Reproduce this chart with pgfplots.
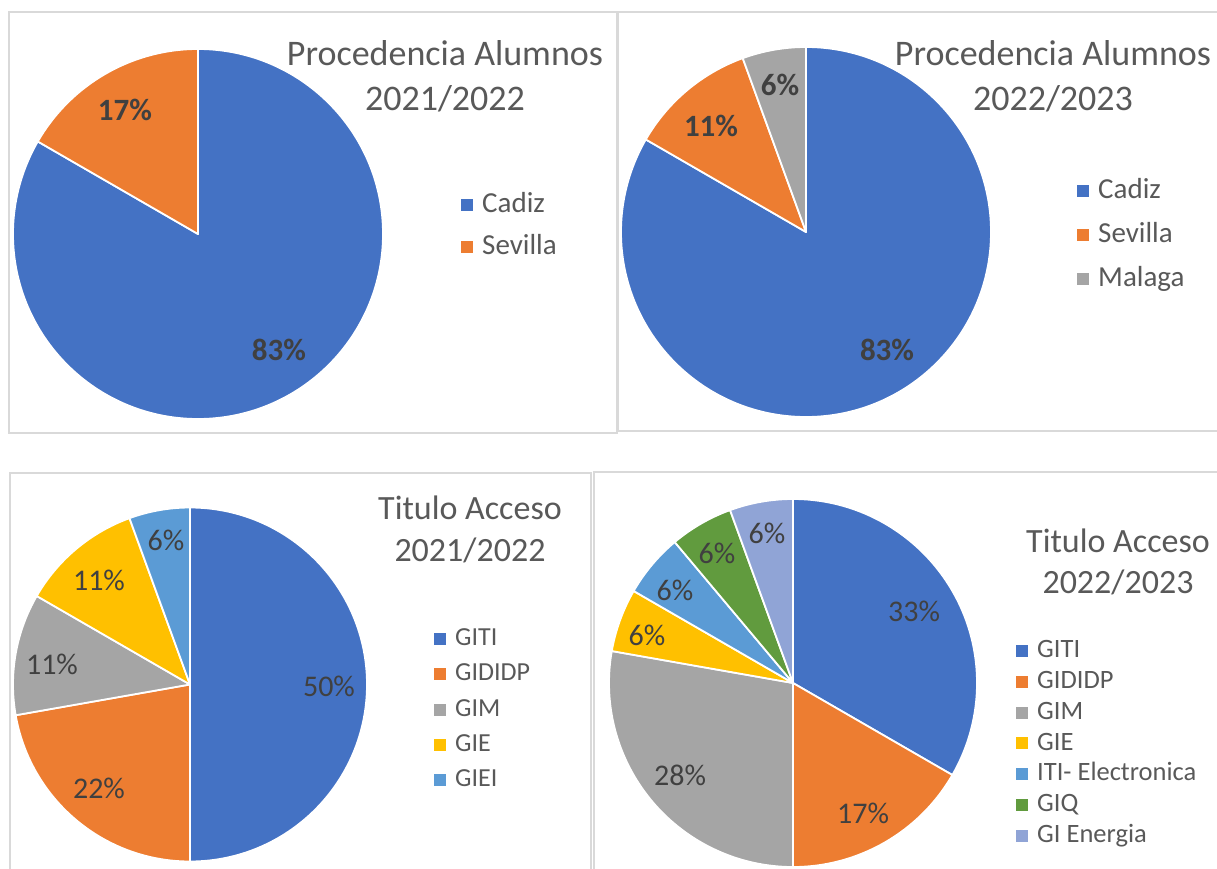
\documentclass[border=0pt]{standalone}
\usepackage{pgfplots}
\pgfplotsset{compat=1.18}
\usepackage{pgfplotstable}
\usepackage{fontspec}
\setmainfont{Carlito}
\definecolor{cblue}{HTML}{4472C4}
\definecolor{corange}{HTML}{ED7D31}
\definecolor{cgray}{HTML}{A5A5A5}
\definecolor{cgold}{HTML}{FFC000}
\definecolor{clblue}{HTML}{5B9BD5}
\definecolor{cgreen}{HTML}{619B3E}
\definecolor{clav}{HTML}{90A4D6}
\definecolor{titlegray}{HTML}{595959}
\definecolor{labgray}{HTML}{404040}
\definecolor{framegray}{HTML}{D9D9D9}

\pgfplotstableread{
name count col
Cadiz 15 cblue
Sevilla 3 corange
}\tA
\pgfplotstableread{
name count col
Cadiz 15 cblue
Sevilla 2 corange
Malaga 1 cgray
}\tB
\pgfplotstableread{
name count col
GITI 9 cblue
GIDIDP 4 corange
GIM 2 cgray
GIE 2 cgold
GIEI 1 clblue
}\tC
\pgfplotstableread{
name count col
GITI 6 cblue
GIDIDP 3 corange
GIM 5 cgray
GIE 1 cgold
{ITI- Electronica} 1 clblue
GIQ 1 cgreen
{GI Energia} 1 clav
}\tD

% #1 table, #2 cx, #3 cy, #4 radius
\newcommand\drawpie[4]{%
  \pgfplotstablegetrowsof{#1}%
  \pgfmathtruncatemacro\nrows{\pgfplotsretval-1}%
  \def\total{0}%
  \pgfplotsforeachungrouped \i in {0,...,\nrows}{%
    \pgfplotstablegetelem{\i}{count}\of#1%
    \pgfmathsetmacro\total{\total+\pgfplotsretval}}%
  \def\cum{0}%
  \pgfplotsforeachungrouped \i in {0,...,\nrows}{%
    \pgfplotstablegetelem{\i}{count}\of#1\let\pval\pgfplotsretval
    \pgfplotstablegetelem{\i}{col}\of#1\let\pcol\pgfplotsretval
    \pgfplotstablegetelem{\i}{name}\of#1\let\pname\pgfplotsretval
    \pgfmathsetmacro\aone{90-360*\cum/\total}%
    \pgfmathsetmacro\cum{\cum+\pval}%
    \pgfmathsetmacro\atwo{90-360*\cum/\total}%
    \edef\cmd{\noexpand\fill[\pcol, draw=white, line width=1.8pt, line join=round]
      (axis cs:#2,#3) -- ++(\aone:#4pt) arc[start angle=\aone, end angle=\atwo, radius=#4pt] -- cycle;
      \noexpand\addlegendimage{fill=\pcol}}%
    \cmd
    \addlegendentryexpanded{\pname}%
  }}

\pgfplotsset{panel/.style={anchor=south west, x=1pt, y=1pt, scale only axis,
  xtick=\empty, ytick=\empty, axis line style={framegray, line width=1.3pt},
  clip=false, legend cell align=left,
  legend image code/.code={\fill[##1, draw=none] (0pt,-6pt) rectangle (12pt,6pt);},
  legend style={draw=none, fill=none, anchor=north west, column sep=9pt}}}

\begin{document}
\begin{tikzpicture}
\useasboundingbox (0pt,0pt) rectangle (1217pt,-869pt);
\fill[white] (0pt,0pt) rectangle (1217pt,-869pt);

% Panel 1
\begin{axis}[panel, at={(9pt,-433pt)}, xmin=9, xmax=617, ymin=-433, ymax=-12,
  legend style={at={(axis cs:458,-190)}, font=\fontsize{29}{29}\selectfont, row sep=15.9pt,
    nodes={inner sep=0pt, text height=20.3pt, text depth=5.8pt, text=titlegray}}]
\drawpie{\tA}{198}{-234}{185}
\node[align=center, text=titlegray, font=\fontsize{36}{45}\selectfont] at (axis cs:445,-76) {Procedencia Alumnos\\2021/2022};
\node[text=labgray, font=\bfseries\fontsize{31}{31}\selectfont] at (axis cs:125,-110) {17\%};
\node[text=labgray, font=\bfseries\fontsize{31}{31}\selectfont] at (axis cs:279,-350) {83\%};
\end{axis}

% Panel 2
\begin{axis}[panel, at={(618pt,-431pt)}, xmin=618, xmax=1225, ymin=-431, ymax=-12,
  legend style={at={(axis cs:1074,-176)}, font=\fontsize{29}{29}\selectfont, row sep=17.9pt,
    nodes={inner sep=0pt, text height=20.3pt, text depth=5.8pt, text=titlegray}}]
\drawpie{\tB}{806}{-232}{185}
\node[align=center, text=titlegray, font=\fontsize{36}{45}\selectfont] at (axis cs:1053,-76) {Procedencia Alumnos\\2022/2023};
\node[text=labgray, font=\bfseries\fontsize{31}{31}\selectfont] at (axis cs:780,-85) {6\%};
\node[text=labgray, font=\bfseries\fontsize{31}{31}\selectfont] at (axis cs:711,-126) {11\%};
\node[text=labgray, font=\bfseries\fontsize{31}{31}\selectfont] at (axis cs:887,-350) {83\%};
\end{axis}

% Panel 3
\begin{axis}[panel, at={(10pt,-890pt)}, xmin=10, xmax=591, ymin=-890, ymax=-473,
  legend style={at={(axis cs:431,-625.1)}, font=\fontsize{26}{26}\selectfont, row sep=11.9pt,
    nodes={inner sep=0pt, text height=18.2pt, text depth=5.2pt, text=titlegray}}]
\drawpie{\tC}{190}{-684.5}{177}
\node[align=center, text=titlegray, font=\fontsize{34}{42}\selectfont] at (axis cs:470,-529) {Titulo Acceso\\2021/2022};
\node[text=labgray, font=\fontsize{30}{30}\selectfont] at (axis cs:166,-540) {6\%};
\node[text=labgray, font=\fontsize{30}{30}\selectfont] at (axis cs:99,-580) {11\%};
\node[text=labgray, font=\fontsize{30}{30}\selectfont] at (axis cs:52,-664) {11\%};
\node[text=labgray, font=\fontsize{30}{30}\selectfont] at (axis cs:99,-788) {22\%};
\node[text=labgray, font=\fontsize{30}{30}\selectfont] at (axis cs:329,-686) {50\%};
\end{axis}

% Panel 4
\begin{axis}[panel, at={(594pt,-890pt)}, xmin=594, xmax=1225, ymin=-890, ymax=-472,
  legend style={at={(axis cs:1013,-636.9)}, font=\fontsize{26.5}{26.5}\selectfont, row sep=6.95pt,
    nodes={inner sep=0pt, text height=18.55pt, text depth=5.3pt, text=titlegray}}]
\drawpie{\tD}{793}{-683}{184}
\node[align=center, text=titlegray, font=\fontsize{34}{41}\selectfont] at (axis cs:1118,-562) {Titulo Acceso\\2022/2023};
\node[text=labgray, font=\fontsize{30}{30}\selectfont] at (axis cs:767,-533) {6\%};
\node[text=labgray, font=\fontsize{30}{30}\selectfont] at (axis cs:717,-553) {6\%};
\node[text=labgray, font=\fontsize{30}{30}\selectfont] at (axis cs:675,-590) {6\%};
\node[text=labgray, font=\fontsize{30}{30}\selectfont] at (axis cs:647,-635) {6\%};
\node[text=labgray, font=\fontsize{30}{30}\selectfont] at (axis cs:680,-775) {28\%};
\node[text=labgray, font=\fontsize{30}{30}\selectfont] at (axis cs:863,-813) {17\%};
\node[text=labgray, font=\fontsize{30}{30}\selectfont] at (axis cs:914,-611) {33\%};
\end{axis}
\end{tikzpicture}
\end{document}
